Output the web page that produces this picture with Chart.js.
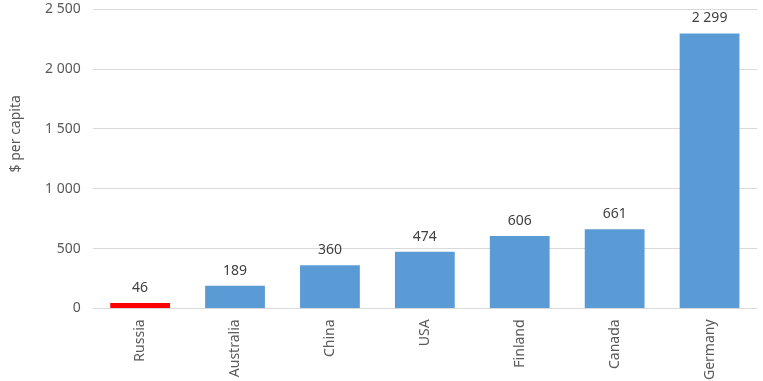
<!DOCTYPE html>
<html>
<head>
<meta charset="utf-8">
<script src="https://cdn.jsdelivr.net/npm/chart.js@4"></script>
<style>
  html, body { margin: 0; padding: 0; background: #fff; overflow: hidden; }
  #wrap { width: 763px; height: 392px; margin-top: -11px; }
</style>
</head>
<body>
<div id="wrap"><canvas id="myChart"></canvas></div>
<script>
const countries = ["Russia", "Australia", "China", "USA", "Finland", "Canada", "Germany"];
const perCapita = [46, 189, 360, 474, 606, 661, 2299];
const barColors = ["#ff0000", "#5b9bd5", "#5b9bd5", "#5b9bd5", "#5b9bd5", "#5b9bd5", "#5b9bd5"];
const yTitle = "$ per capita";

const fmt = (v) => String(v).replace(/\B(?=(\d{3})+(?!\d))/g, " ");

// value labels above each bar
const barLabels = {
  id: "barLabels",
  afterDatasetsDraw(chart) {
    const c = chart.ctx;
    c.save();
    c.font = "14px 'Noto Sans'";
    c.fillStyle = "#404040";
    c.textAlign = "center";
    c.textBaseline = "bottom";
    chart.getDatasetMeta(0).data.forEach((bar, i) => {
      c.fillText(fmt(perCapita[i]), bar.x, bar.y - 8);
    });
    c.restore();
  },
};

// axis title, drawn by hand so it can sit a little above centre like the original
const axisTitle = {
  id: "axisTitle",
  afterDraw(chart) {
    const c = chart.ctx;
    const area = chart.chartArea;
    c.save();
    c.font = "14px 'Noto Sans'";
    c.fillStyle = "#595959";
    c.textAlign = "center";
    c.textBaseline = "middle";
    c.translate(16, area.top + (area.bottom - area.top) * 0.416);
    c.rotate(-Math.PI / 2);
    c.fillText(yTitle, 0, 0);
    c.restore();
  },
};

const ctx = document.getElementById("myChart");

new Chart(ctx, {
  type: "bar",
  data: {
    labels: countries,
    datasets: [
      {
        data: perCapita,
        backgroundColor: barColors,
        categoryPercentage: 1,
        barPercentage: 0.63,
      },
    ],
  },
  options: {
    responsive: true,
    maintainAspectRatio: false,
    animation: false,
    layout: {
      padding: { left: 33, right: 6, top: 0, bottom: -2 },
    },
    scales: {
      x: {
        grid: { display: false },
        border: { display: false },
        ticks: {
          color: "#595959",
          font: { family: "Noto Sans", size: 14 },
          minRotation: 90,
          maxRotation: 90,
          padding: 3,
        },
      },
      y: {
        min: 0,
        max: 2500,
        border: { display: false },
        grid: { color: "#d9d9d9", drawTicks: false },
        ticks: {
          stepSize: 500,
          color: "#595959",
          font: { family: "Noto Sans", size: 14 },
          padding: 12,
          callback: (v) => fmt(v),
        },
      },
    },
    plugins: {
      legend: { display: false },
      tooltip: { enabled: false },
    },
  },
  plugins: [barLabels, axisTitle],
});
</script>
</body>
</html>
